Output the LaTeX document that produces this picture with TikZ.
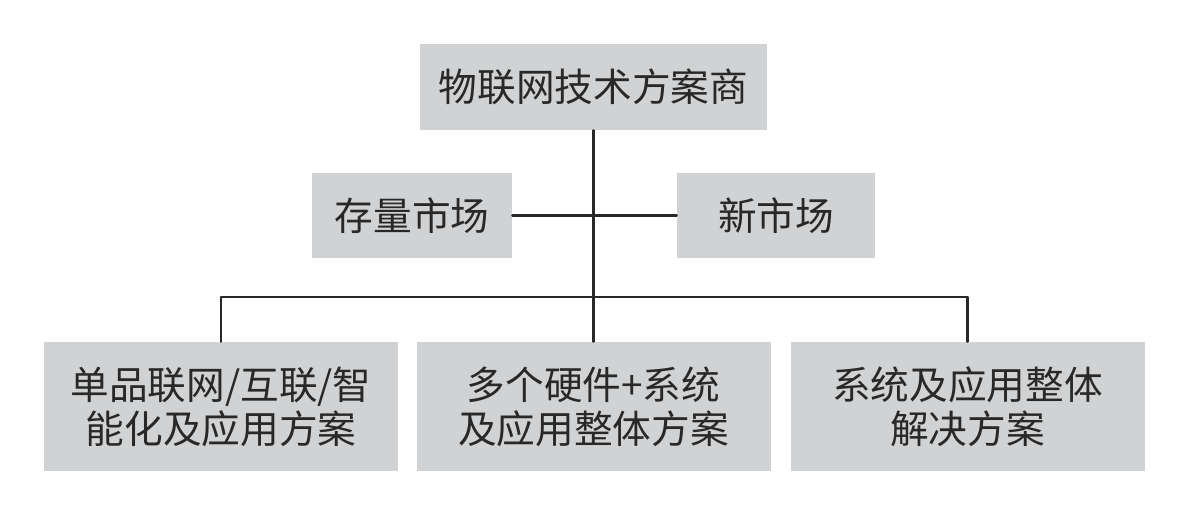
\documentclass[tikz,border=0pt]{standalone}
\usepackage{fontspec}
\newfontfamily\cjk{Noto Sans CJK SC}
\definecolor{boxgray}{RGB}{209,210,212}
\definecolor{inkgray}{RGB}{40,40,40}
\begin{document}
\begin{tikzpicture}[x=0.75pt, y=-0.75pt, line join=round, line cap=round,
	font=\cjk\fontsize{29}{33}\selectfont,
	box/.style={fill=boxgray, text=inkgray, inner sep=0pt, align=center},
	link/.style={draw=inkgray, line width=1.6pt}]
	\useasboundingbox (0,0) rectangle (1178,508);
	% top
	\node[box, minimum width=260pt, minimum height=64.5pt] (vendor) at (593.5,87) {物联网技术方案商};
	% markets
	\node[box, minimum width=150pt, minimum height=63.75pt] (oldmkt) at (412,215.5) {存量市场};
	\node[box, minimum width=148.5pt, minimum height=63.75pt] (newmkt) at (776,215.5) {新市场};
	% solutions
	\node[box, minimum width=265.5pt, minimum height=96.75pt] (sol1) at (221,406.5) {单品联网/互联/智\\能化及应用方案};
	\node[box, minimum width=265.5pt, minimum height=96.75pt] (sol2) at (593.5,406.5) {多个硬件+系统\\及应用整体方案};
	\node[box, minimum width=265.5pt, minimum height=96.75pt] (sol3) at (967.5,406.5) {系统及应用整体\\解决方案};
	\coordinate (bus) at (593.5,297);
	\draw[link] (vendor.south) -- (sol2.north);
	\draw[link] (oldmkt.east) -- (newmkt.west);
	\draw[link] (sol1.north) |- (bus) -| (sol3.north);
\end{tikzpicture}
\end{document}
